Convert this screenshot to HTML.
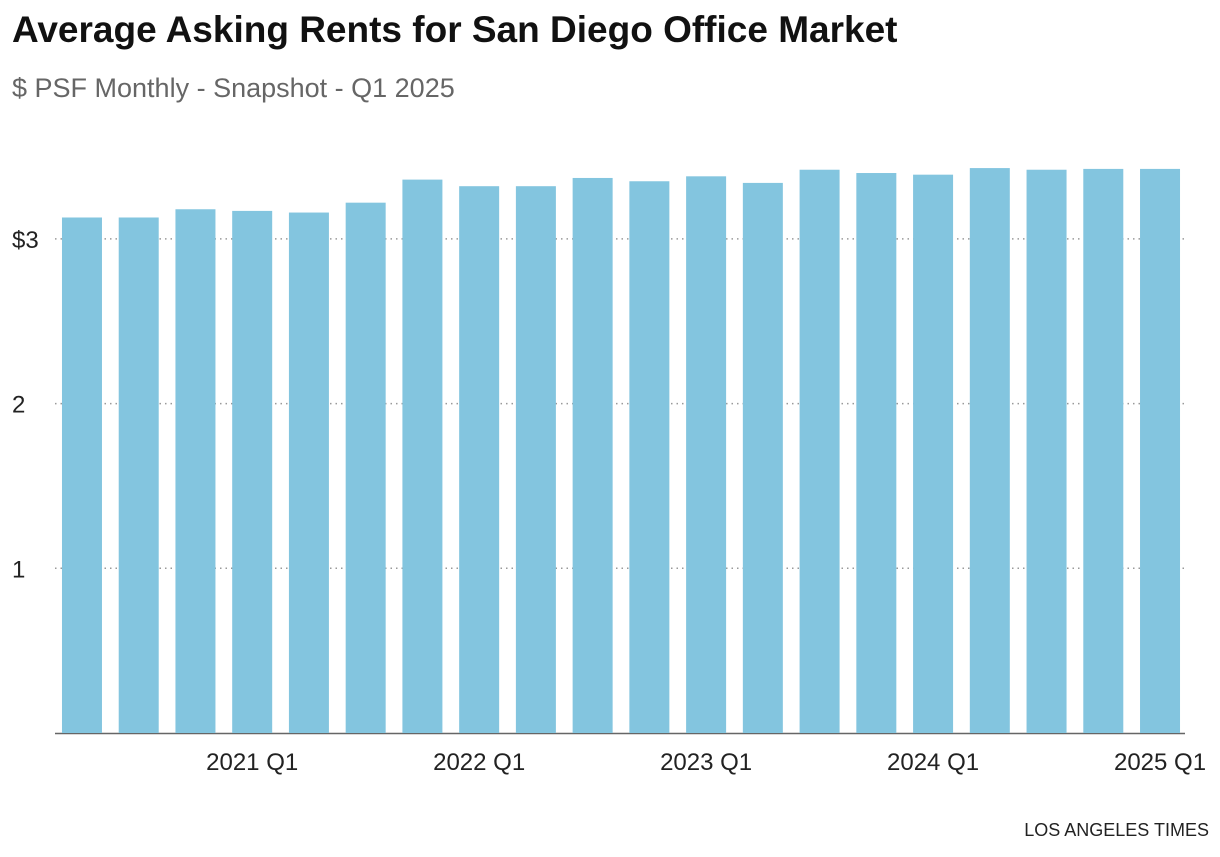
<!DOCTYPE html>
<html><head><meta charset="utf-8"><style>
body{margin:0;background:#fff;width:1220px;height:852px;overflow:hidden;font-family:"Liberation Sans",sans-serif}
</style></head><body>
<svg id="chart" width="1220" height="852" xmlns="http://www.w3.org/2000/svg">
<text x="12" y="42" font-size="37" font-weight="bold" fill="#111" font-family="Liberation Sans, sans-serif">Average Asking Rents for San Diego Office Market</text>
<text x="12" y="97" font-size="27" fill="#666" font-family="Liberation Sans, sans-serif">$ PSF Monthly - Snapshot - Q1 2025</text>
<g id="grid"></g><g id="bars"></g><g id="xlabels"></g>
<text x="1209" y="836" font-size="18" fill="#222" text-anchor="end" font-family="Liberation Sans, sans-serif">LOS ANGELES TIMES</text>
</svg>
<script>
const categories=["2020 Q2","2020 Q3","2020 Q4","2021 Q1","2021 Q2","2021 Q3","2021 Q4","2022 Q1","2022 Q2","2022 Q3","2022 Q4","2023 Q1","2023 Q2","2023 Q3","2023 Q4","2024 Q1","2024 Q2","2024 Q3","2024 Q4","2025 Q1"];
const values=[3.13,3.13,3.18,3.17,3.16,3.22,3.36,3.32,3.32,3.37,3.35,3.38,3.34,3.42,3.40,3.39,3.43,3.42,3.425,3.425];
const yTicks=[1,2,3];
const yTickLabels=["1","2","$3"];
const xLabelCats=["2021 Q1","2022 Q1","2023 Q1","2024 Q1","2025 Q1"];
const NS="http://www.w3.org/2000/svg";
const x0=53.6,x1=1188.4,y0=733,pxPerUnit=164.7,barW=40;
const step=(x1-x0)/categories.length;
const xPos=i=>x0+i*step+(step-barW)/2;
const yPos=v=>y0-v*pxPerUnit;
function mk(tag,attrs,parent){const e=document.createElementNS(NS,tag);for(const k in attrs)e.setAttribute(k,attrs[k]);parent.appendChild(e);return e;}
const grid=document.getElementById('grid'),bars=document.getElementById('bars'),xl=document.getElementById('xlabels');
yTicks.forEach((t,i)=>{
 const l=mk('line',{x1:55,x2:1185,y1:yPos(t),y2:yPos(t),stroke:'#999','stroke-width':1.5,'stroke-dasharray':'1.5 4'},grid);
 
 
 const tx=mk('text',{x:12,y:yPos(t)+9,'font-size':24,fill:'#222'},grid);
 tx.textContent=yTickLabels[i];
 
 
});
values.forEach((v,i)=>{
 const r=mk('rect',{x:xPos(i),y:yPos(v),width:barW,height:y0-yPos(v),fill:'#83c5df'},bars);
 
 
});
const ax=mk('line',{x1:55,x2:1185,y1:y0+0.5,y2:y0+0.5,stroke:'#666','stroke-width':1.5},grid);


xLabelCats.forEach(c=>{
 const i=categories.indexOf(c);
 const t=mk('text',{x:xPos(i)+barW/2,y:770,'font-size':24,fill:'#222','text-anchor':'middle'},xl);
 t.textContent=c;
 
 
});
</script>
</body></html>
